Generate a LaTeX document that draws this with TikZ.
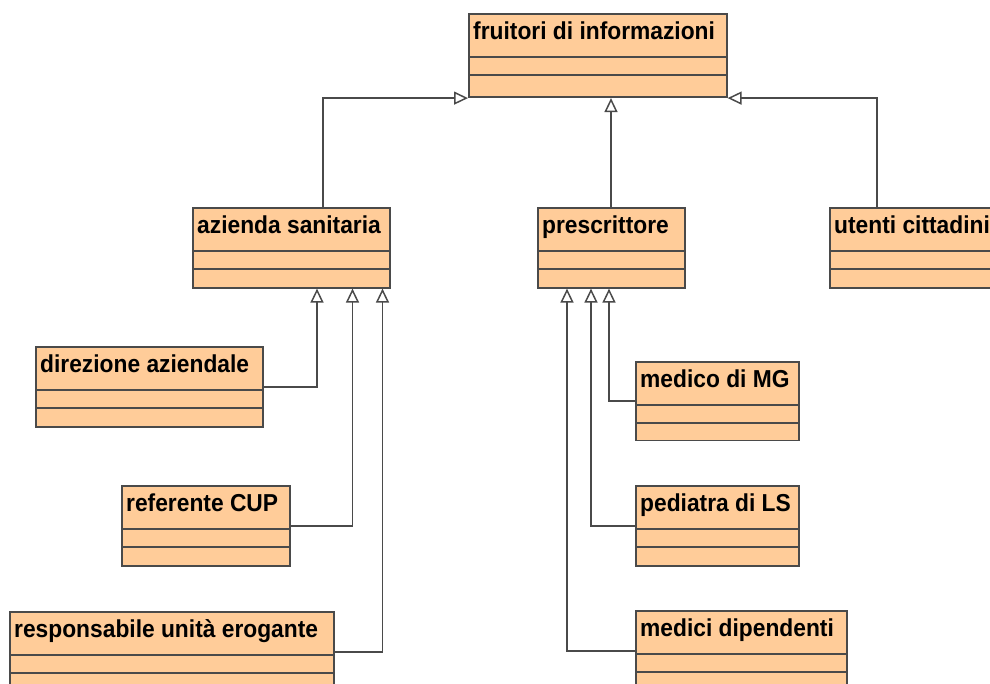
\documentclass[tikz,border=0pt]{standalone}
\usepackage{fontspec}
\usepackage{graphicx}
\setmainfont{Liberation Sans}
\usetikzlibrary{arrows.meta,calc}
\definecolor{clsfill}{HTML}{FFCC99}
\definecolor{clsline}{HTML}{4A4A4A}
\tikzset{
  clsbox/.style={draw=clsline, fill=clsfill, line width=1.6pt, rectangle, inner sep=0pt, anchor=north west},
  clstitle/.style={anchor=base west, inner sep=0pt, font=\fontsize{24.5}{28}\selectfont\bfseries, text=black},
  sepline/.style={draw=clsline, line width=1.6pt},
  gen/.style={draw=clsline, line width=1.5pt, -{Triangle[open, length=14pt, width=13pt, line width=1.5pt]}},
}
% #1 name, #2 x, #3 y, #4 width, #5 last compartment height, #6 title
\newcommand{\umlcls}[6]{%
  \node[clsbox, minimum width=#4pt, minimum height={62pt+#5pt}] (#1) at (#2,#3) {};
  \draw[sepline] ($(#1.north west)+(0,44)$) -- ($(#1.north east)+(0,44)$);
  \draw[sepline] ($(#1.north west)+(0,62)$) -- ($(#1.north east)+(0,62)$);
  \node[clstitle] (#1-t) at ($(#1.north west)+(5,26.5)$) {\scalebox{0.93}[1]{#6}};
}
\begin{document}
\begin{tikzpicture}[x=1pt,y=-1pt]
\useasboundingbox (0,0) rectangle (990,684);
\clip (0,0) rectangle (990,684);
\umlcls{fru}{468}{13}{258}{21.5}{fruitori di informazioni}
\umlcls{az}{192}{207}{197}{18}{azienda sanitaria}
\umlcls{pre}{537}{207}{147}{18}{prescrittore}
\umlcls{ute}{829}{207}{180}{18}{utenti cittadini}
\umlcls{dir}{35}{346}{227}{18}{direzione aziendale}
\umlcls{cup}{121}{485}{168}{18}{referente CUP}
\umlcls{resp}{9}{611}{324}{18}{responsabile unità erogante}
\umlcls{mg}{635}{361}{163}{16.5}{medico di MG}
\umlcls{ped}{635}{485}{163}{18}{pediatra di LS}
\umlcls{dip}{635}{610}{211}{18}{medici dipendenti}
% connectors
\coordinate (azup) at ($(az.north west)+(131,0)$);
\coordinate (preup) at ($(pre.north west)+(74,0)$);
\coordinate (uteup) at ($(ute.north west)+(48,0)$);
\draw[gen] (azup) |- (fru.south west);
\draw[gen] (preup) -- (preup |- fru.south);
\draw[gen] (uteup) |- (fru.south east);
\draw[gen] (dir.east) -| ($(az.south west)+(125,0)$);
\draw[gen] (cup.east) -| ($(az.south west)+(160.5,0)$);
\draw[gen] (resp.east) -| ($(az.south west)+(190.5,0)$);
\draw[gen] (mg.west) -| ($(pre.south west)+(72,0)$);
\draw[gen] (ped.west) -| ($(pre.south west)+(54,0)$);
\draw[gen] (dip.west) -| ($(pre.south west)+(30,0)$);
\end{tikzpicture}
\end{document}
